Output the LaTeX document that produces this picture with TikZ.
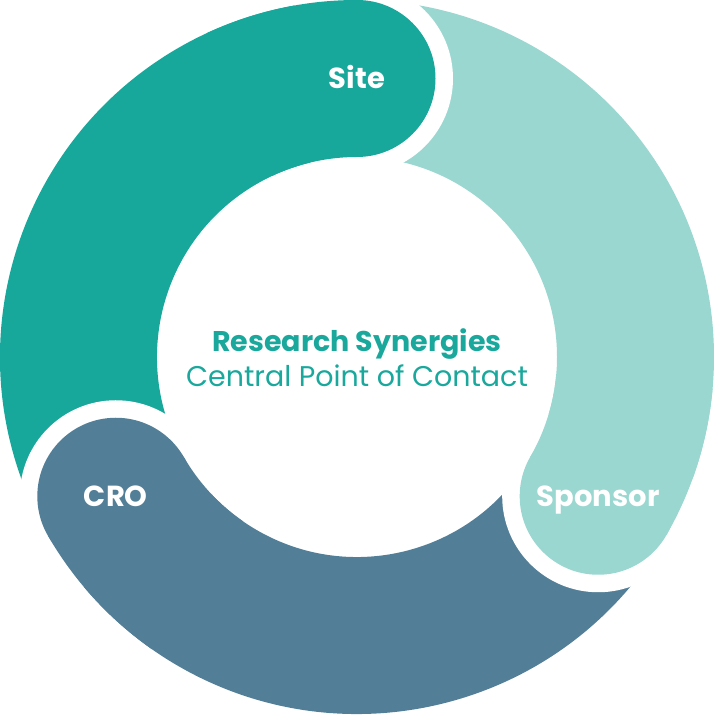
\documentclass[tikz,border=0pt]{standalone}
\usepackage{fontspec}
\setmainfont{Poppins}
\usetikzlibrary{positioning}
\definecolor{sitecol}{HTML}{17A79B}
\definecolor{sponsorcol}{HTML}{99D7D0}
\definecolor{crocol}{HTML}{527F97}
\definecolor{textcol}{HTML}{1AA89C}
\tikzset{
  ringpart/.style={line width=157pt},
  partlabel/.style={text=white, anchor=base, font=\fontsize{29}{34}\selectfont\bfseries},
  centertext/.style={text=textcol, anchor=base, font=\fontsize{28.5}{34}\selectfont},
}

\begin{document}
\begin{tikzpicture}[x=1pt,y=1pt]
  \useasboundingbox (0,0) rectangle (714,715);
  \coordinate (O) at (357,358);
  % ring bodies, clockwise
  \draw[ringpart, sitecol] ([shift={(210:278.5)}]O) arc[start angle=210, end angle=90, radius=278.5];
  \draw[ringpart, sponsorcol] ([shift={(90:278.5)}]O) arc[start angle=90, end angle=-30, radius=278.5];
  \draw[ringpart, crocol] ([shift={(-30:278.5)}]O) arc[start angle=-30, end angle=-150, radius=278.5];
  % round heads with white gap
  \fill[white] ([shift={(210:278.5)}]O) circle[radius=96];
  \draw[ringpart, crocol] ([shift={(235:278.5)}]O) arc[start angle=235, end angle=210, radius=278.5];
  \fill[crocol] ([shift={(210:278.5)}]O) circle[radius=78.5];
  \fill[white] ([shift={(90:278.5)}]O) circle[radius=96];
  \draw[ringpart, sitecol] ([shift={(115:278.5)}]O) arc[start angle=115, end angle=90, radius=278.5];
  \fill[sitecol] ([shift={(90:278.5)}]O) circle[radius=78.5];
  \fill[white] ([shift={(-30:278.5)}]O) circle[radius=96];
  \draw[ringpart, sponsorcol] ([shift={(-5:278.5)}]O) arc[start angle=-5, end angle=-30, radius=278.5];
  \fill[sponsorcol] ([shift={(-30:278.5)}]O) circle[radius=78.5];
  % labels
  \node[partlabel] (site) at ([shift={(90:278.5)},yshift=-10]O) {Site};
  \node[partlabel] (sponsor) at ([shift={(-30:278.5)},yshift=-10]O) {Sponsor};
  \node[partlabel] (cro) at ([shift={(210:278.5)},yshift=-10]O) {CRO};
  \node[centertext, font=\fontsize{28.5}{34}\selectfont\bfseries] (title) at ([yshift=5]O) {Research Synergies};
  \node[centertext] (sub) at ([yshift=-30]O) {Central Point of Contact};
\end{tikzpicture}
\end{document}
